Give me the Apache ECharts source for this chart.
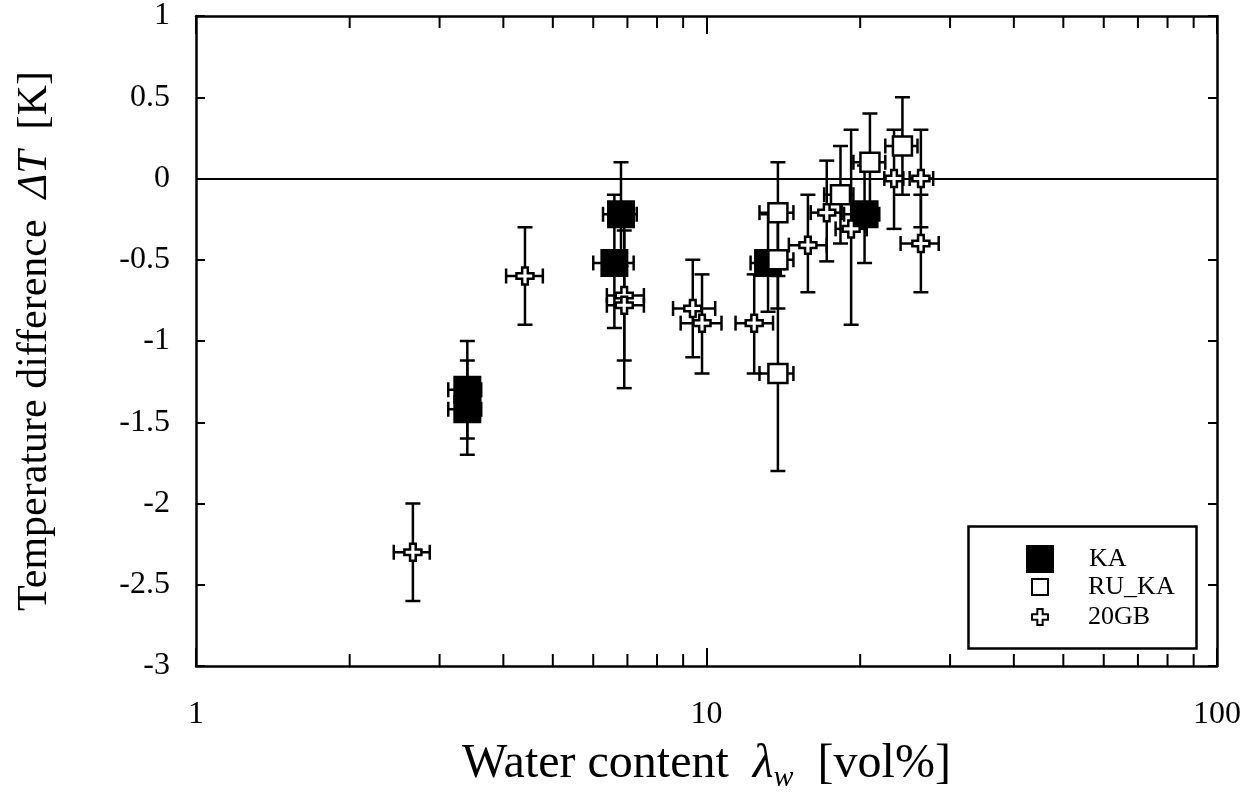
<!DOCTYPE html>
<html>
<head>
<meta charset="utf-8">
<script src="https://cdn.jsdelivr.net/npm/echarts@6/dist/echarts.min.js"></script>
<style>html,body{margin:0;padding:0;background:#fff}#c{width:1249px;height:798px}</style>
</head>
<body>
<div id="c"></div>
<script>
// ---- data: [x, y, xLow, xHigh, yLow, yHigh] ----
var KA = [
  [3.4, -1.30, 3.12, 3.62, -1.60, -1.00],
  [3.4, -1.42, 3.12, 3.62, -1.70, -1.12],
  [6.8, -0.22, 6.27, 7.3, -0.54, 0.10],
  [6.6, -0.52, 6.0, 7.2, -0.92, -0.10],
  [13.2, -0.52, 12.2, 14.2, -0.82, -0.22],
  [20.4, -0.22, 18.6, 21.8, -0.52, 0.08]
];
var RU_KA = [
  [13.8, -0.21, 12.7, 14.8, -0.52, 0.10],
  [13.8, -0.50, 12.7, 14.8, -0.80, -0.20],
  [13.8, -1.20, 12.7, 14.8, -1.80, -0.60],
  [18.3, -0.10, 17.0, 19.4, -0.40, 0.20],
  [20.9, 0.10, 19.4, 22.4, -0.20, 0.40],
  [24.2, 0.20, 22.4, 25.9, -0.10, 0.50]
];
var GB20 = [
  [2.66, -2.30, 2.44, 2.87, -2.60, -2.00],
  [4.41, -0.60, 4.05, 4.78, -0.90, -0.30],
  [6.9, -0.72, 6.38, 7.54, -1.12, -0.32],
  [6.9, -0.78, 6.38, 7.54, -1.29, -0.28],
  [9.4, -0.80, 8.6, 10.4, -1.10, -0.50],
  [9.8, -0.89, 8.9, 10.7, -1.20, -0.59],
  [12.4, -0.89, 11.4, 13.5, -1.20, -0.59],
  [15.8, -0.41, 14.5, 17.2, -0.70, -0.10],
  [17.2, -0.21, 16.0, 18.4, -0.51, 0.11],
  [19.2, -0.31, 17.9, 20.6, -0.90, 0.30],
  [23.3, 0.00, 22.3, 24.3, -0.31, 0.30],
  [26.3, 0.00, 25.0, 27.8, -0.30, 0.30],
  [26.3, -0.40, 24.0, 28.5, -0.70, -0.10]
];
var seriesNames = ['KA', 'RU_KA', '20GB'];
var minorTickValues = [2, 3, 4, 5, 6, 7, 8, 9, 20, 30, 40, 50, 60, 70, 80, 90];
var yMin = -3, yMax = 1, yStep = 0.5;
var xMin = 1, xMax = 100;

var FONT = 'Liberation Serif';
var crossPath = 'path://M1,0 L2,0 L2,1 L3,1 L3,2 L2,2 L2,3 L1,3 L1,2 L0,2 L0,1 L1,1 Z';

function pts(arr) { return arr.map(function (d) { return [d[0], d[1]]; }); }
var allErr = KA.concat(RU_KA).concat(GB20);

var chart = echarts.init(document.getElementById('c'), null, {renderer: 'canvas'});

function axisCommon() {
  return {
    axisLine: {show: true, onZero: false, lineStyle: {color: '#000', width: 2.5}},
    splitLine: {show: false}
  };
}

var option = {
  backgroundColor: '#fff',
  animation: false,
  grid: {left: 196, top: 14, width: 1021, height: 654, show: false},
  xAxis: [
    Object.assign(axisCommon(), {
      type: 'log', logBase: 10, min: xMin, max: xMax, position: 'bottom',
      axisTick: {inside: true, length: 18, lineStyle: {color: '#000', width: 2}},
      axisLabel: {margin: 33, color: '#000', fontFamily: FONT, fontSize: 32},
      name: 'Water content  {i|λ}{s|w}  [vol%]',
      nameLocation: 'middle', nameGap: 69,
      nameTextStyle: {color: '#000', fontFamily: FONT, fontSize: 48,
        rich: {i: {fontFamily: FONT, fontStyle: 'italic', fontSize: 48, color: '#000'},
               s: {fontFamily: FONT, fontStyle: 'italic', fontSize: 30, color: '#000', padding: [28, 0, 0, 0]}}}
    }),
    Object.assign(axisCommon(), {
      type: 'log', logBase: 10, min: xMin, max: xMax, position: 'top',
      axisTick: {inside: true, length: 18, lineStyle: {color: '#000', width: 2}},
      axisLabel: {show: false}
    })
  ],
  yAxis: [
    Object.assign(axisCommon(), {
      type: 'value', min: yMin, max: yMax, interval: yStep, position: 'left',
      axisTick: {inside: true, length: 9, lineStyle: {color: '#000', width: 2}},
      axisLabel: {margin: 26, color: '#000', fontFamily: FONT, fontSize: 32},
      name: 'Temperature difference  {i|ΔT}  [K]',
      nameLocation: 'middle', nameGap: 140, nameRotate: 90,
      nameTextStyle: {color: '#000', fontFamily: FONT, fontSize: 42,
        rich: {i: {fontFamily: FONT, fontStyle: 'italic', fontSize: 42, color: '#000'}}}
    }),
    Object.assign(axisCommon(), {
      type: 'value', min: yMin, max: yMax, interval: yStep, position: 'right',
      axisTick: {inside: true, length: 9, lineStyle: {color: '#000', width: 2}},
      axisLabel: {show: false}
    })
  ],
  legend: [
    {data: [seriesNames[0]], left: 1021, top: 540, itemWidth: 28, itemHeight: 28, orient: 'vertical',
     textStyle: {fontFamily: FONT, fontSize: 26, color: '#000', padding: [0, 0, 0, 30]}},
    {data: [seriesNames[1]], left: 1026, top: 569, itemWidth: 16, itemHeight: 16, orient: 'vertical',
     textStyle: {fontFamily: FONT, fontSize: 26, color: '#000', padding: [0, 0, 0, 35]}},
    {data: [seriesNames[2]], left: 1026, top: 599, itemWidth: 16, itemHeight: 16, orient: 'vertical',
     textStyle: {fontFamily: FONT, fontSize: 26, color: '#000', padding: [0, 0, 0, 35]}}
  ],
  graphic: [
    {type: 'rect', left: 966, top: 524, shape: {width: 228, height: 122},
     style: {fill: 'none', stroke: '#000', lineWidth: 2.5}, z: 0}
  ],
  series: [
    {
      type: 'custom', name: 'minorTicks', silent: true, clip: false, z: 1,
      data: minorTickValues.map(function (v) { return [v]; }),
      encode: {x: 0},
      renderItem: function (params, api) {
        var v = api.value(0);
        var b = api.coord([v, yMin]), t = api.coord([v, yMax]);
        var st = {stroke: '#000', lineWidth: 2};
        return {type: 'group', children: [
          {type: 'line', shape: {x1: b[0], y1: b[1], x2: b[0], y2: b[1] - 12}, style: st},
          {type: 'line', shape: {x1: t[0], y1: t[1], x2: t[0], y2: t[1] + 12}, style: st}
        ]};
      }
    },
    {
      type: 'custom', name: 'errorbars', silent: true, z: 2,
      data: allErr,
      encode: {x: [0, 2, 3], y: [1, 4, 5]},
      renderItem: function (params, api) {
        var x = api.value(0), y = api.value(1);
        var pL = api.coord([api.value(2), y]), pR = api.coord([api.value(3), y]);
        var pB = api.coord([x, api.value(4)]), pT = api.coord([x, api.value(5)]);
        var c = 7.5;
        var st = {stroke: '#000', lineWidth: 2.5};
        return {type: 'group', children: [
          {type: 'line', shape: {x1: pB[0], y1: pB[1], x2: pT[0], y2: pT[1]}, style: st},
          {type: 'line', shape: {x1: pB[0] - c, y1: pB[1], x2: pB[0] + c, y2: pB[1]}, style: st},
          {type: 'line', shape: {x1: pT[0] - c, y1: pT[1], x2: pT[0] + c, y2: pT[1]}, style: st},
          {type: 'line', shape: {x1: pL[0], y1: pL[1], x2: pR[0], y2: pR[1]}, style: st},
          {type: 'line', shape: {x1: pL[0], y1: pL[1] - c, x2: pL[0], y2: pL[1] + c}, style: st},
          {type: 'line', shape: {x1: pR[0], y1: pR[1] - c, x2: pR[0], y2: pR[1] + c}, style: st}
        ]};
      },
      markLine: {
        silent: true, symbol: ['none', 'none'], label: {show: false},
        lineStyle: {color: '#000', width: 2.2, type: 'solid'},
        data: [{yAxis: 0}]
      }
    },
    {
      type: 'scatter', name: seriesNames[0], z: 3, data: pts(KA),
      symbol: 'rect', symbolSize: 28,
      itemStyle: {color: '#000', opacity: 1}
    },
    {
      type: 'scatter', name: seriesNames[1], z: 4, data: pts(RU_KA),
      symbol: 'rect', symbolSize: 19,
      itemStyle: {color: '#fff', borderColor: '#000', borderWidth: 2.5, opacity: 1}
    },
    {
      type: 'scatter', name: seriesNames[2], z: 5, data: pts(GB20),
      symbol: crossPath, symbolSize: 17,
      itemStyle: {color: '#fff', borderColor: '#000', borderWidth: 2.5, opacity: 1}
    }
  ]
};
chart.setOption(option);
</script>
</body>
</html>
